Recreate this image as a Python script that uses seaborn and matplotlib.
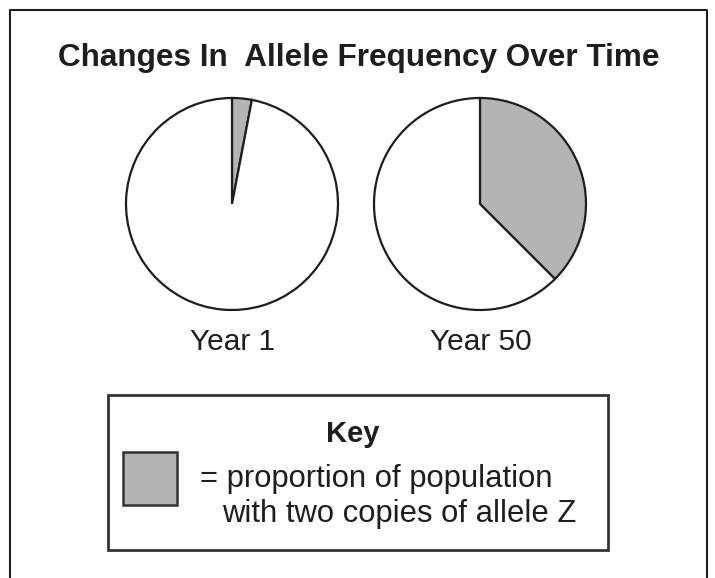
import matplotlib.pyplot as plt
import seaborn as sns
from matplotlib.patches import Rectangle

sns.set_theme(style="white")
plt.rcParams['font.family'] = ['Liberation Sans', 'DejaVu Sans']

# data
years = ["Year 1", "Year 50"]
share_zz = [3, 37.5]          # % with two copies of allele Z
title = "Changes In  Allele Frequency Over Time"
key_title = "Key"
key_lines = ["= proportion of population", "with two copies of allele Z"]

gray = "#b4b4b4"
ink = "#1e1e1e"
W, H = 715, 578

fig = plt.figure(figsize=(7.15, 5.78), dpi=100)
ax = fig.add_axes([0, 0, 1, 1])

def py(y):
    return H - y

centers_x = [232, 480]
for cx, lab, z in zip(centers_x, years, share_zz):
    ax.pie([z, 100 - z], center=(cx, py(204)), radius=106, startangle=90,
           counterclock=False, colors=[gray, "white"],
           wedgeprops=dict(edgecolor=ink, linewidth=1.6))
    ax.text(cx + 1, py(350), lab, ha="center", va="baseline", fontsize=21.5, color=ink)

ax.set_xlim(0, W)
ax.set_ylim(0, H)
ax.set_aspect("equal")
ax.axis("off")

# outer frame (open at bottom)
ax.plot([10, 10, 707, 707], [0, py(10), py(10), 0], color=ink, lw=1.5)

ax.text(359, py(66), title, ha="center", va="baseline", fontsize=22.7,
        fontweight="bold", color=ink)

# key box
ax.add_patch(Rectangle((108, py(550)), 500, 155, fill=False, edgecolor="#333333", lw=2))
ax.text(353, py(442), key_title, ha="center", va="baseline", fontsize=21,
        fontweight="bold", color=ink)
ax.add_patch(Rectangle((123, py(505)), 54, 53, facecolor=gray, edgecolor="#333333", lw=1.8))
ax.text(200, py(487), key_lines[0], ha="left", va="baseline", fontsize=22.3, color=ink)
ax.text(222, py(522), key_lines[1], ha="left", va="baseline", fontsize=22.3, color=ink)

fig.savefig("out.png", dpi=100, facecolor="white")
